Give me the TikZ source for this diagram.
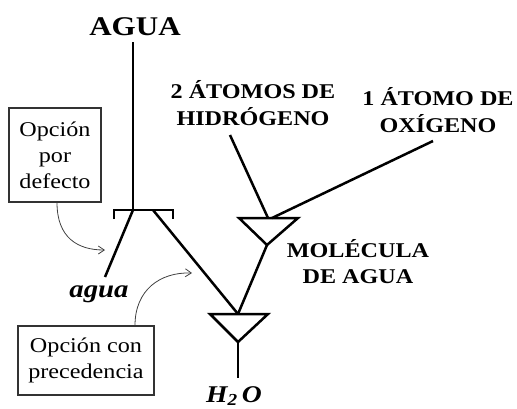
\documentclass[tikz,border=0pt]{standalone}
\usepackage{fontspec}
\setmainfont{Liberation Serif}[FakeStretch=1.15]
\usetikzlibrary{arrows.meta}
\tikzset{
  wire/.style={line width=2.5pt, line join=miter, line cap=butt},
  biglabel/.style={font=\bfseries\fontsize{27}{30}\selectfont, anchor=base, inner sep=2pt},
  label/.style={font=\bfseries\fontsize{21}{26}\selectfont, anchor=base, inner sep=2pt},
  wordlabel/.style={font=\bfseries\itshape\fontsize{25}{30}\selectfont, anchor=base, inner sep=2pt},
  notebox/.style={draw=black!80, line width=1.1pt, align=center, font=\fontsize{21}{26}\selectfont, inner sep=2pt},
  note/.style={draw=black!75, line width=0.8pt, -{Straight Barb[length=6pt,width=8pt]}}
}
\begin{document}
\begin{tikzpicture}[x=1pt,y=-1pt]
\useasboundingbox (0,0) rectangle (517,408);
% labels
\node[biglabel] (AGUA) at (135,35) {AGUA};
\node[label] (H1) at (253,98) {2 ÁTOMOS DE};
\node[label] (H2) at (253,125) {HIDRÓGENO};
\node[label] (O1) at (438,105) {1 ÁTOMO DE};
\node[label] (O2) at (438,132) {OXÍGENO};
\node[label] (M1) at (358,257) {MOLÉCULA};
\node[label] (M2) at (358,283) {DE AGUA};
\node[wordlabel] (aguaw) at (99,297) {agua};
\node[wordlabel, font=\bfseries\itshape\fontsize{24}{30}\selectfont] (H2O) at (234,402) {H\textsubscript{2}\,O};
% boxes
\node[notebox, minimum width=92pt, minimum height=94pt] (def) at (55,155) {Opción\\por\\defecto};
\node[notebox, minimum width=136pt, minimum height=69pt] (prec) at (86,360.5) {Opción con\\precedencia};
% junction coordinates
\coordinate (stem) at (133,210);
\coordinate (tR) at (153,210);
\coordinate (aend) at (105,277);
\coordinate (uL) at (239,218);
\coordinate (uR) at (298,218);
\coordinate (uA) at (267,245);
\coordinate (lL) at (210,314);
\coordinate (lR) at (268,314);
\coordinate (lT) at (238,314);
\coordinate (lA) at (238,342);
\coordinate (hend) at (230,135);
\coordinate (oend) at (433,141);
\coordinate (tip1) at (105,250);
\coordinate (tip2) at (192,273);
% selector
\draw[wire] (133,42) -- (stem);
\draw[wire] (114,219) -- (114,210) -- (173,210) -- (173,219);
\draw[wire] (stem) -- (aend);
\draw[wire] (tR) -- (lT);
% upper triangle
\draw[wire] (uL) -- (uR) -- (uA) -- cycle;
\draw[wire] (hend) -- (268,218);
\draw[wire] (oend) -- (272,218);
\draw[wire] (uA) -- (lT);
% lower triangle
\draw[wire] (lL) -- (lR) -- (lA) -- cycle;
\draw[wire] (lA) -- (238,378);
% note arrows
\draw[note] ([xshift=2pt]def.south) .. controls (57,238) and (78,250) .. (tip1);
\draw[note] ([xshift=49pt]prec.north) .. controls (135,290) and (160,272) .. (tip2);
\end{tikzpicture}
\end{document}
